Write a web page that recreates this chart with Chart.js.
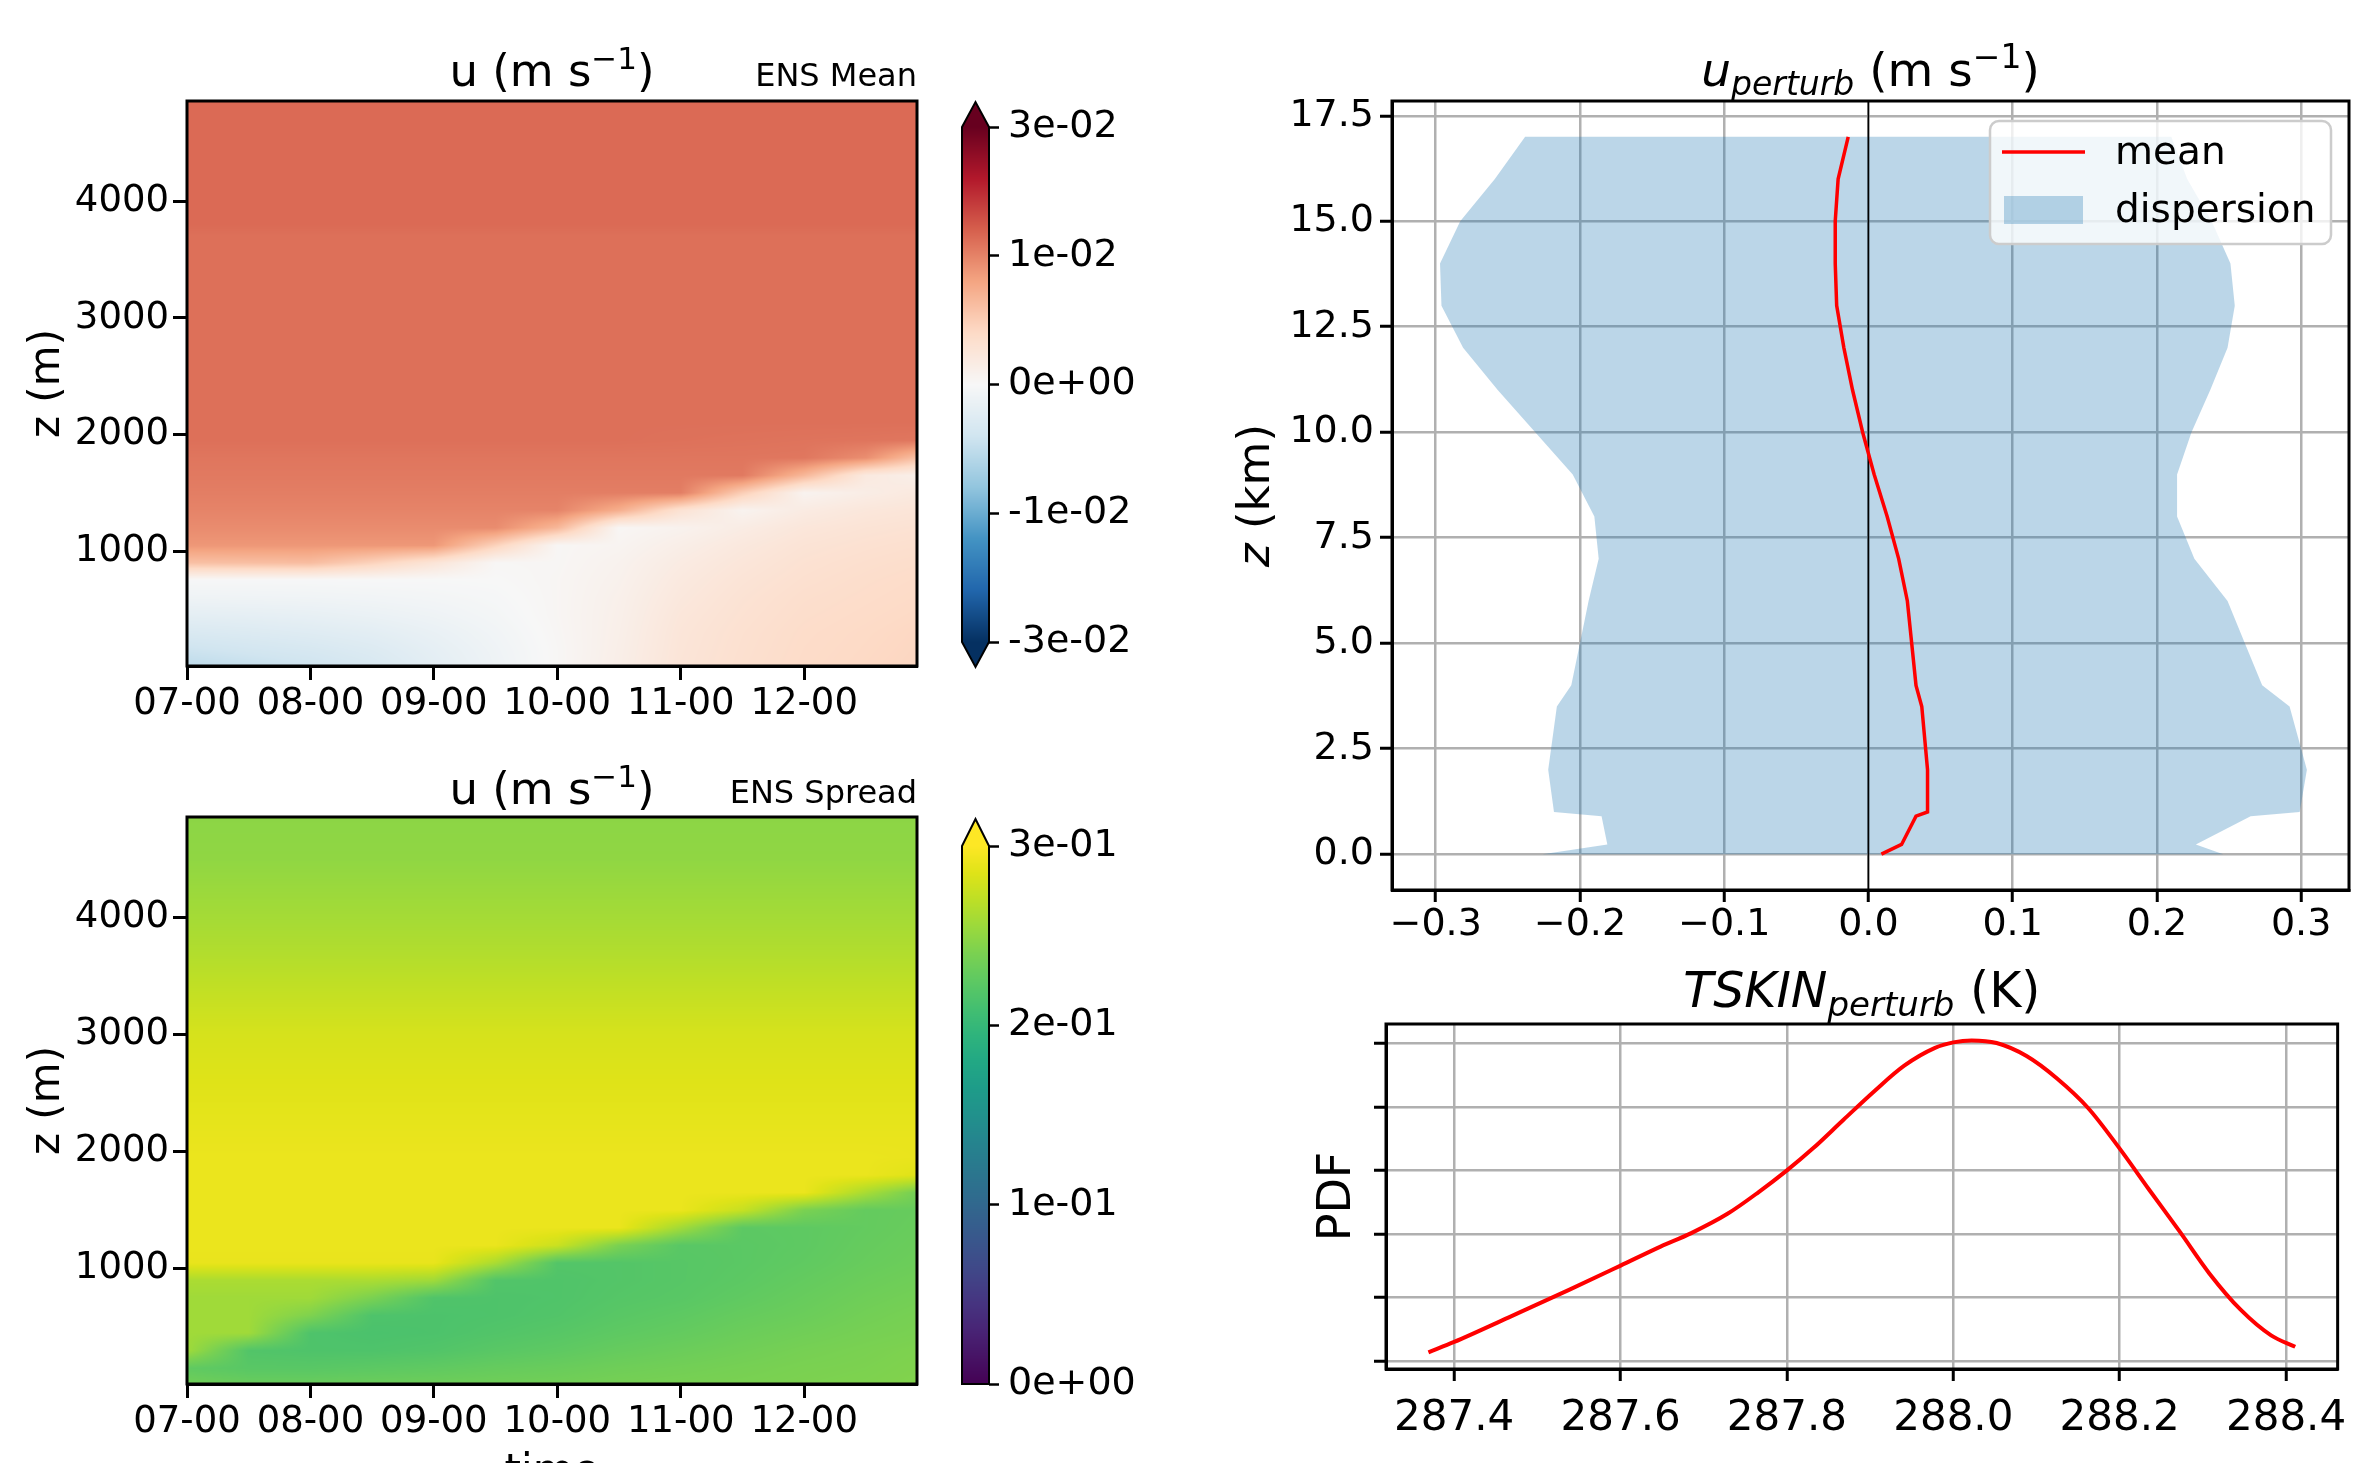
<!DOCTYPE html>
<html lang="en">
<head>
<meta charset="utf-8">
<title>Ensemble perturbation diagnostics</title>
<script src="https://cdn.jsdelivr.net/npm/chart.js@4.4.1/dist/chart.umd.min.js"></script>
<style>
  html, body { margin: 0; padding: 0; background: #fff; }
  #fig { position: relative; width: 2364px; height: 1463px; overflow: hidden; background: #fff; }
  #fig canvas { position: absolute; }
</style>
</head>
<body>
<div id="fig">
  <canvas id="mean" width="960" height="740" style="left:0px;top:0px"></canvas>
  <canvas id="meanBar" width="230" height="640" style="left:930px;top:60px"></canvas>
  <canvas id="spread" width="960" height="723" style="left:0px;top:740px"></canvas>
  <canvas id="spreadBar" width="230" height="640" style="left:930px;top:780px"></canvas>
  <canvas id="profile" width="1184" height="960" style="left:1180px;top:0px"></canvas>
  <canvas id="pdf" width="1184" height="503" style="left:1180px;top:960px"></canvas>
</div>
<script>
// ------------------------------------------------------------
// Data
// ------------------------------------------------------------

// time-height sections: hours after 07-00, heights in m
const TIME_NODES = [0, 0.5, 1, 1.5, 2, 2.5, 3, 3.5, 4, 4.5, 5, 5.5, 6];
const TIME_TICKS = [0, 1, 2, 3, 4, 5];
const TIME_LABELS = ["07-00", "08-00", "09-00", "10-00", "11-00", "12-00"];
const TIME_RANGE = [0, 5.914];
const Z_NODES = [0, 150, 300, 450, 600, 750, 900, 1050, 1200, 1350, 1500, 1650, 1800, 1950, 2100, 2500, 3000, 3700, 3800, 4500, 4900];
const Z_TICKS = [1000, 2000, 3000, 4000];
const Z_RANGE = [15, 4860];

// ensemble mean of u (m/s): one row per Z_NODES level, one column per TIME_NODES
const U_MEAN = [
    [-0.0080, -0.0072, -0.0063, -0.0050, -0.0032, -0.0015, 0.0003, 0.0020, 0.0040, 0.0050, 0.0058, 0.0062, 0.0066],
    [-0.0064, -0.0057, -0.0051, -0.0042, -0.0028, -0.0013, 0.0003, 0.0019, 0.0039, 0.0049, 0.0057, 0.0061, 0.0065],
    [-0.0047, -0.0043, -0.0038, -0.0032, -0.0022, -0.0010, 0.0004, 0.0018, 0.0038, 0.0048, 0.0056, 0.0060, 0.0064],
    [-0.0030, -0.0028, -0.0025, -0.0020, -0.0014, -0.0006, 0.0005, 0.0017, 0.0036, 0.0046, 0.0054, 0.0058, 0.0062],
    [-0.0014, -0.0013, -0.0012, -0.0010, -0.0007, -0.0003, 0.0005, 0.0016, 0.0033, 0.0044, 0.0052, 0.0056, 0.0060],
    [-0.0002, -0.0002, -0.0002, -0.0001, -0.0001, 0.0000, 0.0005, 0.0014, 0.0030, 0.0041, 0.0049, 0.0054, 0.0058],
    [0.0090, 0.0092, 0.0094, 0.0070, 0.0040, 0.0003, 0.0004, 0.0012, 0.0026, 0.0037, 0.0046, 0.0051, 0.0055],
    [0.0132, 0.0132, 0.0132, 0.0132, 0.0132, 0.0070, 0.0004, 0.0008, 0.0020, 0.0032, 0.0042, 0.0047, 0.0051],
    [0.0142, 0.0142, 0.0142, 0.0142, 0.0142, 0.0142, 0.0100, 0.0004, 0.0012, 0.0024, 0.0036, 0.0042, 0.0046],
    [0.0149, 0.0149, 0.0149, 0.0149, 0.0149, 0.0149, 0.0149, 0.0110, 0.0045, 0.0010, 0.0026, 0.0035, 0.0040],
    [0.0154, 0.0154, 0.0154, 0.0154, 0.0154, 0.0154, 0.0154, 0.0154, 0.0154, 0.0075, 0.0010, 0.0022, 0.0032],
    [0.0158, 0.0158, 0.0158, 0.0158, 0.0158, 0.0158, 0.0158, 0.0158, 0.0158, 0.0158, 0.0100, 0.0030, 0.0015],
    [0.0161, 0.0161, 0.0161, 0.0161, 0.0161, 0.0161, 0.0161, 0.0161, 0.0161, 0.0161, 0.0160, 0.0140, 0.0080],
    [0.0166, 0.0166, 0.0166, 0.0166, 0.0166, 0.0166, 0.0166, 0.0166, 0.0165, 0.0164, 0.0163, 0.0162, 0.0160],
    [0.0166, 0.0166, 0.0166, 0.0166, 0.0166, 0.0166, 0.0166, 0.0166, 0.0166, 0.0166, 0.0166, 0.0166, 0.0166],
    [0.0166, 0.0166, 0.0166, 0.0166, 0.0166, 0.0166, 0.0166, 0.0166, 0.0166, 0.0166, 0.0166, 0.0166, 0.0166],
    [0.0166, 0.0166, 0.0166, 0.0166, 0.0166, 0.0166, 0.0166, 0.0166, 0.0166, 0.0166, 0.0166, 0.0166, 0.0166],
    [0.0166, 0.0166, 0.0166, 0.0166, 0.0166, 0.0166, 0.0166, 0.0166, 0.0166, 0.0166, 0.0166, 0.0166, 0.0166],
    [0.0171, 0.0171, 0.0171, 0.0171, 0.0171, 0.0171, 0.0171, 0.0171, 0.0171, 0.0171, 0.0171, 0.0171, 0.0171],
    [0.0171, 0.0171, 0.0171, 0.0171, 0.0171, 0.0171, 0.0171, 0.0171, 0.0171, 0.0171, 0.0171, 0.0171, 0.0171],
    [0.0171, 0.0171, 0.0171, 0.0171, 0.0171, 0.0171, 0.0171, 0.0171, 0.0171, 0.0171, 0.0171, 0.0171, 0.0171]
];

// ensemble spread of u (m/s)
const U_SPREAD = [
    [0.236, 0.232, 0.232, 0.233, 0.234, 0.235, 0.236, 0.238, 0.239, 0.240, 0.241, 0.242, 0.244],
    [0.226, 0.222, 0.222, 0.224, 0.226, 0.229, 0.231, 0.234, 0.236, 0.238, 0.240, 0.241, 0.243],
    [0.257, 0.218, 0.216, 0.216, 0.218, 0.222, 0.225, 0.229, 0.232, 0.235, 0.238, 0.240, 0.242],
    [0.257, 0.257, 0.216, 0.214, 0.215, 0.218, 0.221, 0.225, 0.228, 0.232, 0.235, 0.238, 0.240],
    [0.257, 0.257, 0.242, 0.216, 0.215, 0.216, 0.218, 0.222, 0.225, 0.229, 0.232, 0.236, 0.239],
    [0.257, 0.257, 0.257, 0.240, 0.217, 0.216, 0.217, 0.220, 0.222, 0.226, 0.230, 0.234, 0.237],
    [0.262, 0.262, 0.262, 0.262, 0.257, 0.218, 0.217, 0.219, 0.221, 0.224, 0.228, 0.232, 0.235],
    [0.290, 0.290, 0.290, 0.290, 0.290, 0.262, 0.219, 0.219, 0.221, 0.223, 0.226, 0.230, 0.233],
    [0.291, 0.291, 0.291, 0.291, 0.291, 0.291, 0.276, 0.240, 0.222, 0.223, 0.225, 0.229, 0.232],
    [0.291, 0.291, 0.291, 0.291, 0.291, 0.291, 0.291, 0.291, 0.258, 0.224, 0.225, 0.228, 0.231],
    [0.291, 0.291, 0.291, 0.291, 0.291, 0.291, 0.291, 0.291, 0.291, 0.274, 0.240, 0.228, 0.230],
    [0.291, 0.291, 0.291, 0.291, 0.291, 0.291, 0.291, 0.291, 0.291, 0.291, 0.291, 0.261, 0.232],
    [0.291, 0.291, 0.291, 0.291, 0.291, 0.291, 0.291, 0.291, 0.291, 0.291, 0.291, 0.291, 0.284],
    [0.291, 0.291, 0.291, 0.291, 0.291, 0.291, 0.291, 0.291, 0.291, 0.291, 0.291, 0.291, 0.290],
    [0.290, 0.290, 0.290, 0.290, 0.290, 0.290, 0.290, 0.290, 0.290, 0.290, 0.290, 0.290, 0.290],
    [0.286, 0.286, 0.286, 0.286, 0.286, 0.286, 0.286, 0.286, 0.286, 0.286, 0.286, 0.286, 0.286],
    [0.281, 0.281, 0.281, 0.281, 0.281, 0.281, 0.281, 0.281, 0.281, 0.281, 0.281, 0.281, 0.281],
    [0.265, 0.265, 0.265, 0.265, 0.265, 0.265, 0.265, 0.265, 0.265, 0.265, 0.265, 0.265, 0.265],
    [0.263, 0.263, 0.263, 0.263, 0.263, 0.263, 0.263, 0.263, 0.263, 0.263, 0.263, 0.263, 0.263],
    [0.250, 0.250, 0.250, 0.250, 0.250, 0.250, 0.250, 0.250, 0.250, 0.250, 0.250, 0.250, 0.250],
    [0.248, 0.248, 0.248, 0.248, 0.248, 0.248, 0.248, 0.248, 0.248, 0.248, 0.248, 0.248, 0.248]
];

const MEAN_RANGE = [-0.03, 0.03];
const MEAN_CB_TICKS = [-0.03, -0.015, 0, 0.015, 0.03];
const MEAN_CB_LABELS = ["-3e-02", "-1e-02", "0e+00", "1e-02", "3e-02"];
const SPREAD_RANGE = [0, 0.3];
const SPREAD_CB_TICKS = [0, 0.1, 0.2, 0.3];
const SPREAD_CB_LABELS = ["0e+00", "1e-01", "2e-01", "3e-01"];

// u_perturb profile (km, m/s)
const PROF_Z = [0, 0.23, 0.9, 1.0, 2.0, 3.5, 4.0, 5.0, 6.0, 7.0, 8.0, 9.0, 10.0, 11.0, 12.0, 13.0, 14.0, 15.0, 16.0, 17.0];
const PROF_MEAN = [0.009, 0.023, 0.033, 0.041, 0.041, 0.037, 0.033, 0.030, 0.027, 0.021, 0.013, 0.004, -0.004, -0.011, -0.017, -0.022, -0.023, -0.023, -0.021, -0.014];
const PROF_LO = [-0.226, -0.181, -0.185, -0.218, -0.222, -0.216, -0.206, -0.200, -0.194, -0.187, -0.190, -0.205, -0.231, -0.257, -0.281, -0.296, -0.297, -0.283, -0.259, -0.238];
const PROF_HI = [0.246, 0.227, 0.265, 0.299, 0.304, 0.292, 0.273, 0.261, 0.249, 0.226, 0.214, 0.214, 0.224, 0.237, 0.249, 0.254, 0.251, 0.238, 0.221, 0.210];
const PROF_X_TICKS = [-0.3, -0.2, -0.1, 0, 0.1, 0.2, 0.3];
const PROF_Z_TICKS = [0, 2.5, 5, 7.5, 10, 12.5, 15, 17.5];
const PROF_X_RANGE = [-0.3303, 0.3332];
const PROF_Z_RANGE = [-0.85, 17.85];
const ZERO_U = 0;

// TSKIN_perturb density (K, arbitrary units)
const TSKIN = [287.369, 287.400, 287.465, 287.538, 287.600, 287.648, 287.685, 287.729, 287.766, 287.800,
               287.831, 287.868, 287.905, 287.941, 287.978, 288.000, 288.022, 288.052, 288.088, 288.125,
               288.162, 288.200, 288.235, 288.272, 288.308, 288.345, 288.382, 288.411];
const TSKIN_PDF = [0.133, 0.297, 0.681, 1.117, 1.500, 1.800, 2.013, 2.321, 2.660, 3.002,
                   3.345, 3.800, 4.250, 4.652, 4.933, 5.020, 5.051, 5.010, 4.805, 4.447,
                   3.986, 3.345, 2.705, 2.039, 1.373, 0.809, 0.400, 0.220];
const TSKIN_TICKS = [287.4, 287.6, 287.8, 288.0, 288.2, 288.4];
const PDF_TICKS = [0, 1, 2, 3, 4, 5];
const TSKIN_RANGE = [287.318, 288.462];
const PDF_RANGE = [-0.13, 5.31];

// ------------------------------------------------------------
// Colour maps
// ------------------------------------------------------------
const RDBU_R_STOPS = ["#053061", "#2166ac", "#4393c3", "#92c5de", "#d1e5f0", "#f7f7f7",
                      "#fddbc7", "#f4a582", "#d6604d", "#b2182b", "#67001f"];
const VIRIDIS_STOPS = ["#440154", "#471365", "#482475", "#463480", "#414487", "#3b528b", "#355f8d",
                       "#2f6c8e", "#2a788e", "#25848e", "#21918c", "#1e9c89", "#22a884", "#2fb47c",
                       "#44bf70", "#5ec962", "#7ad151", "#9bd93c", "#bddf26", "#dfe318", "#fde725"];

function makeCmap(stops) {
    const rgb = stops.map(h => [1, 3, 5].map(k => parseInt(h.substr(k, 2), 16)));
    const n = rgb.length;
    return f => {
        const p = Math.min(1, Math.max(0, f)) * (n - 1);
        const k = Math.min(n - 2, Math.floor(p));
        const w = p - k;
        return [0, 1, 2].map(c => Math.round(rgb[k][c] * (1 - w) + rgb[k + 1][c] * w));
    };
}
const RDBU_R = makeCmap(RDBU_R_STOPS);
const VIRIDIS = makeCmap(VIRIDIS_STOPS);

// ------------------------------------------------------------
// Helpers
// ------------------------------------------------------------
const FONT = "'DejaVu Sans', sans-serif";
const BLACK = "#000";
Chart.defaults.font.family = FONT;
Chart.defaults.color = BLACK;

function tickFont(size) { return { family: FONT, size, lineHeight: 1 }; }

function drawRich(ctx, segs, x, y, align, angle) {
    ctx.save();
    ctx.translate(x, y);
    if (angle) ctx.rotate(angle);
    ctx.fillStyle = BLACK;
    ctx.textBaseline = "alphabetic";
    ctx.textAlign = "left";
    const fonts = segs.map(s => `${s.italic ? "italic " : ""}${s.size}px ${FONT}`);
    const widths = segs.map((s, i) => { ctx.font = fonts[i]; return ctx.measureText(s.text).width; });
    const total = widths.reduce((p, c) => p + c, 0);
    let cx = align === "center" ? -total / 2 : align === "right" ? -total : 0;
    segs.forEach((s, i) => {
        ctx.font = fonts[i];
        ctx.fillText(s.text, cx, s.dy || 0);
        cx += widths[i];
    });
    ctx.restore();
}

function textLayer(items) {
    return {
        id: "texts",
        afterDraw(chart) {
            const a = chart.chartArea;
            items.forEach(it => drawRich(chart.ctx, it.segs, it.x(a), it.y(a), it.align, it.rotate));
        }
    };
}

const framePlugin = {
    id: "frame",
    afterDatasetsDraw(chart) {
        const { ctx, chartArea: a } = chart;
        ctx.save();
        ctx.strokeStyle = BLACK;
        ctx.lineWidth = 3;
        ctx.strokeRect(a.left, a.top, a.right - a.left, a.bottom - a.top);
        ctx.restore();
    }
};

function locate(nodes, v) {
    let i = 0;
    while (i < nodes.length - 2 && v > nodes[i + 1]) i++;
    const f = (v - nodes[i]) / (nodes[i + 1] - nodes[i]);
    return [i, Math.min(1, Math.max(0, f))];
}

// shades the plot area from the gridded values, via the chart's own scales
function heatLayer(grid, cmap, range) {
    return {
        id: "heat",
        beforeDatasetsDraw(chart) {
            const { ctx, chartArea: a, scales } = chart;
            const x0 = Math.round(a.left), y0 = Math.round(a.top);
            const w = Math.round(a.right) - x0, h = Math.round(a.bottom) - y0;
            const img = ctx.createImageData(w, h);
            const cols = [], rows = [];
            for (let px = 0; px < w; px++) cols.push(locate(TIME_NODES, scales.x.getValueForPixel(x0 + px + 0.5)));
            for (let py = 0; py < h; py++) rows.push(locate(Z_NODES, scales.y.getValueForPixel(y0 + py + 0.5)));
            let k = 0;
            for (let py = 0; py < h; py++) {
                const [j, fy] = rows[py];
                const r0 = grid[j], r1 = grid[j + 1];
                for (let px = 0; px < w; px++) {
                    const [i, fx] = cols[px];
                    const v = (r0[i] * (1 - fx) + r0[i + 1] * fx) * (1 - fy) +
                              (r1[i] * (1 - fx) + r1[i + 1] * fx) * fy;
                    const c = cmap((v - range[0]) / (range[1] - range[0]));
                    img.data[k++] = c[0];
                    img.data[k++] = c[1];
                    img.data[k++] = c[2];
                    img.data[k++] = 255;
                }
            }
            ctx.putImageData(img, x0, y0);
        }
    };
}

function colorbarLayer(cmap, range, extendLow, extendHigh, ext) {
    return {
        id: "cbar",
        beforeDatasetsDraw(chart) {
            const { ctx, chartArea: a, scales: { y } } = chart;
            const x0 = Math.round(a.left), w = Math.round(a.right) - x0;
            const rgb = c => `rgb(${c[0]},${c[1]},${c[2]})`;
            for (let py = Math.round(a.top); py < Math.round(a.bottom); py++) {
                ctx.fillStyle = rgb(cmap((y.getValueForPixel(py + 0.5) - range[0]) / (range[1] - range[0])));
                ctx.fillRect(x0, py, w, 1);
            }
            const cx = (a.left + a.right) / 2;
            if (extendHigh) {
                ctx.beginPath();
                ctx.moveTo(a.left, a.top); ctx.lineTo(cx, a.top - ext); ctx.lineTo(a.right, a.top);
                ctx.closePath(); ctx.fillStyle = rgb(cmap(1)); ctx.fill();
            }
            if (extendLow) {
                ctx.beginPath();
                ctx.moveTo(a.left, a.bottom); ctx.lineTo(cx, a.bottom + ext); ctx.lineTo(a.right, a.bottom);
                ctx.closePath(); ctx.fillStyle = rgb(cmap(0)); ctx.fill();
            }
            ctx.beginPath();
            ctx.moveTo(a.left, a.bottom);
            ctx.lineTo(a.left, a.top);
            if (extendHigh) ctx.lineTo(cx, a.top - ext);
            ctx.lineTo(a.right, a.top);
            ctx.lineTo(a.right, a.bottom);
            if (extendLow) ctx.lineTo(cx, a.bottom + ext);
            ctx.closePath();
            ctx.strokeStyle = BLACK;
            ctx.lineWidth = 2;
            ctx.stroke();
        }
    };
}

function heatAxes(yWidth, xHeight) {
    return {
        x: {
            type: "linear", min: TIME_RANGE[0], max: TIME_RANGE[1],
            afterBuildTicks: s => { s.ticks = TIME_TICKS.map(v => ({ value: v })); },
            afterFit: s => { s.height = xHeight; },
            ticks: { font: tickFont(37), color: BLACK, padding: 6, maxRotation: 0, autoSkip: false,
                     callback: v => TIME_LABELS[TIME_TICKS.indexOf(v)] },
            grid: { drawOnChartArea: false, tickLength: 14, tickWidth: 3, tickColor: BLACK },
            border: { display: true, color: BLACK, width: 3 }
        },
        y: {
            type: "linear", min: Z_RANGE[0], max: Z_RANGE[1],
            afterBuildTicks: s => { s.ticks = Z_TICKS.map(v => ({ value: v })); },
            afterFit: s => { s.width = yWidth; },
            ticks: { font: tickFont(37), color: BLACK, padding: 4, autoSkip: false, callback: v => String(v) },
            grid: { drawOnChartArea: false, tickLength: 14, tickWidth: 3, tickColor: BLACK },
            border: { display: true, color: BLACK, width: 3 }
        }
    };
}

function barAxes(range, ticks, labels, yWidth) {
    return {
        x: { display: false, min: 0, max: 1 },
        y: {
            position: "right", min: range[0], max: range[1],
            afterBuildTicks: s => { s.ticks = ticks.map(v => ({ value: v })); },
            afterFit: s => { s.width = yWidth; },
            ticks: { font: tickFont(38), color: BLACK, padding: 9, autoSkip: false, callback: (v, i) => labels[i] },
            grid: { drawOnChartArea: false, tickLength: 10, tickWidth: 2.5, tickColor: BLACK },
            border: { display: false }
        }
    };
}

const baseOptions = {
    responsive: false,
    animation: false,
    devicePixelRatio: 1,
    plugins: { legend: { display: false }, tooltip: { enabled: false } }
};

const HEAT_TITLE = [{ text: "u (m s", size: 45 }, { text: "\u22121", size: 31, dy: -17 }, { text: ")", size: 45 }];

// ------------------------------------------------------------
// ENS Mean section
// ------------------------------------------------------------
new Chart(document.getElementById("mean"), {
    type: "scatter",
    data: { datasets: [] },
    options: { ...baseOptions, layout: { padding: { top: 101, right: 43, left: 0, bottom: 0 } }, scales: heatAxes(187, 74) },
    plugins: [
        heatLayer(U_MEAN, RDBU_R, MEAN_RANGE), framePlugin,
        textLayer([
            { segs: HEAT_TITLE, x: a => (a.left + a.right) / 2, y: a => a.top - 15, align: "center" },
            { segs: [{ text: "ENS Mean", size: 32 }], x: a => a.right, y: a => a.top - 15, align: "right" },
            { segs: [{ text: "z (m)", size: 42 }], x: () => 59, y: a => (a.top + a.bottom) / 2, align: "center", rotate: -Math.PI / 2 }
        ])
    ]
});

new Chart(document.getElementById("meanBar"), {
    type: "scatter",
    data: { datasets: [] },
    options: { ...baseOptions, layout: { padding: { top: 67, left: 32, bottom: 58, right: 0 } },
               scales: barAxes(MEAN_RANGE, MEAN_CB_TICKS, MEAN_CB_LABELS, 171) },
    plugins: [colorbarLayer(RDBU_R, MEAN_RANGE, true, true, 25)]
});

// ------------------------------------------------------------
// ENS Spread section
// ------------------------------------------------------------
new Chart(document.getElementById("spread"), {
    type: "scatter",
    data: { datasets: [] },
    options: { ...baseOptions, layout: { padding: { top: 77, right: 43, left: 0, bottom: 0 } }, scales: heatAxes(187, 79) },
    plugins: [
        heatLayer(U_SPREAD, VIRIDIS, SPREAD_RANGE), framePlugin,
        textLayer([
            { segs: HEAT_TITLE, x: a => (a.left + a.right) / 2, y: a => a.top - 13, align: "center" },
            { segs: [{ text: "ENS Spread", size: 32 }], x: a => a.right, y: a => a.top - 14, align: "right" },
            { segs: [{ text: "z (m)", size: 42 }], x: () => 59, y: a => (a.top + a.bottom) / 2, align: "center", rotate: -Math.PI / 2 },
            { segs: [{ text: "time", size: 42 }], x: a => (a.left + a.right) / 2, y: a => a.bottom + 100, align: "center" }
        ])
    ]
});

new Chart(document.getElementById("spreadBar"), {
    type: "scatter",
    data: { datasets: [] },
    options: { ...baseOptions, layout: { padding: { top: 66, left: 32, bottom: 36, right: 0 } },
               scales: barAxes(SPREAD_RANGE, SPREAD_CB_TICKS, SPREAD_CB_LABELS, 171) },
    plugins: [colorbarLayer(VIRIDIS, SPREAD_RANGE, false, true, 27)]
});

// ------------------------------------------------------------
// u_perturb profile
// ------------------------------------------------------------
const profileLegend = {
    id: "profileLegend",
    afterDraw(chart) {
        const { ctx, chartArea: a } = chart;
        const items = chart.data.datasets.filter(d => d.label);
        const w = 341, h = 123, x = a.right - 18 - w, y = a.top + 20;
        ctx.save();
        ctx.beginPath();
        ctx.roundRect(x, y, w, h, 9);
        ctx.fillStyle = "rgba(255,255,255,0.8)";
        ctx.fill();
        ctx.strokeStyle = "#cccccc";
        ctx.lineWidth = 2.5;
        ctx.stroke();
        ctx.font = `39px ${FONT}`;
        ctx.textBaseline = "middle";
        items.forEach((d, i) => {
            const cy = y + 31 + i * 58;
            if (d.fill) {
                ctx.fillStyle = d.backgroundColor;
                ctx.fillRect(x + 14, cy - 14, 79, 28);
            } else {
                ctx.strokeStyle = d.borderColor;
                ctx.lineWidth = d.borderWidth;
                ctx.beginPath();
                ctx.moveTo(x + 12, cy);
                ctx.lineTo(x + 95, cy);
                ctx.stroke();
            }
            ctx.fillStyle = BLACK;
            ctx.fillText(d.label, x + 125, cy + 2);
        });
        ctx.restore();
    }
};

const dispersionPts = PROF_Z.map((z, i) => ({ x: PROF_LO[i], y: z }))
    .concat(PROF_Z.map((z, i) => ({ x: PROF_HI[i], y: z })).reverse());

new Chart(document.getElementById("profile"), {
    type: "line",
    data: {
        datasets: [
            { label: "mean", data: PROF_Z.map((z, i) => ({ x: PROF_MEAN[i], y: z })),
              borderColor: "#ff0000", borderWidth: 3.5, pointRadius: 0, fill: false, tension: 0 },
            { data: [{ x: ZERO_U, y: PROF_Z_RANGE[0] }, { x: ZERO_U, y: PROF_Z_RANGE[1] }],
              borderColor: BLACK, borderWidth: 1.6, pointRadius: 0, fill: false },
            { label: "dispersion", data: dispersionPts, fill: "shape",
              backgroundColor: "rgba(31,119,180,0.3)", borderWidth: 0, pointRadius: 0, tension: 0 }
        ]
    },
    options: {
        ...baseOptions,
        layout: { padding: { top: 101, right: 15, left: 0, bottom: 0 } },
        scales: {
            x: {
                type: "linear", min: PROF_X_RANGE[0], max: PROF_X_RANGE[1],
                afterBuildTicks: s => { s.ticks = PROF_X_TICKS.map(v => ({ value: v })); },
                afterFit: s => { s.height = 70; },
                ticks: { font: tickFont(38), color: BLACK, padding: 4, maxRotation: 0, autoSkip: false,
                         callback: v => v.toFixed(1).replace("-", "\u2212") },
                grid: { color: "#b0b0b0", lineWidth: 2.5, tickLength: 12, tickWidth: 3, tickColor: BLACK },
                border: { display: true, color: BLACK, width: 3 }
            },
            y: {
                type: "linear", min: PROF_Z_RANGE[0], max: PROF_Z_RANGE[1],
                afterBuildTicks: s => { s.ticks = PROF_Z_TICKS.map(v => ({ value: v })); },
                afterFit: s => { s.width = 212; },
                ticks: { font: tickFont(38), color: BLACK, padding: 6, autoSkip: false, callback: v => v.toFixed(1) },
                grid: { color: "#b0b0b0", lineWidth: 2.5, tickLength: 12, tickWidth: 3, tickColor: BLACK },
                border: { display: true, color: BLACK, width: 3 }
            }
        }
    },
    plugins: [
        framePlugin, profileLegend,
        textLayer([
            { segs: [{ text: "u", size: 47, italic: true }, { text: "perturb", size: 33, italic: true, dy: 9 },
                     { text: " (m s", size: 47 }, { text: "\u22121", size: 33, dy: -18 }, { text: ")", size: 47 }],
              x: a => (a.left + a.right) / 2, y: a => a.top - 15, align: "center" },
            { segs: [{ text: "z", size: 45, italic: true }, { text: " (km)", size: 45 }],
              x: () => 89, y: a => (a.top + a.bottom) / 2, align: "center", rotate: -Math.PI / 2 }
        ])
    ]
});

// ------------------------------------------------------------
// TSKIN_perturb PDF
// ------------------------------------------------------------
new Chart(document.getElementById("pdf"), {
    type: "line",
    data: {
        datasets: [
            { data: TSKIN.map((t, i) => ({ x: t, y: TSKIN_PDF[i] })), borderColor: "#ff0000", borderWidth: 4,
              pointRadius: 0, fill: false, cubicInterpolationMode: "monotone" }
        ]
    },
    options: {
        ...baseOptions,
        layout: { padding: { top: 64, right: 15, left: 0, bottom: 0 } },
        scales: {
            x: {
                type: "linear", min: TSKIN_RANGE[0], max: TSKIN_RANGE[1],
                afterBuildTicks: s => { s.ticks = TSKIN_TICKS.map(v => ({ value: v })); },
                afterFit: s => { s.height = 94; },
                ticks: { font: tickFont(42), color: BLACK, padding: 17, maxRotation: 0, autoSkip: false,
                         callback: v => v.toFixed(1) },
                grid: { color: "#b0b0b0", lineWidth: 2.5, tickLength: 12, tickWidth: 3, tickColor: BLACK },
                border: { display: true, color: BLACK, width: 3 }
            },
            y: {
                type: "linear", min: PDF_RANGE[0], max: PDF_RANGE[1],
                afterBuildTicks: s => { s.ticks = PDF_TICKS.map(v => ({ value: v })); },
                afterFit: s => { s.width = 206; },
                ticks: { font: tickFont(38), color: BLACK, padding: 4, autoSkip: false, callback: () => "" },
                grid: { color: "#b0b0b0", lineWidth: 2.5, tickLength: 12, tickWidth: 3, tickColor: BLACK },
                border: { display: true, color: BLACK, width: 3 }
            }
        }
    },
    plugins: [
        framePlugin,
        textLayer([
            { segs: [{ text: "TSKIN", size: 49, italic: true }, { text: "perturb", size: 34, italic: true, dy: 9 },
                     { text: " (K)", size: 49 }],
              x: a => (a.left + a.right) / 2, y: a => a.top - 17, align: "center" },
            { segs: [{ text: "PDF", size: 46 }], x: () => 170, y: a => (a.top + a.bottom) / 2, align: "center", rotate: -Math.PI / 2 }
        ])
    ]
});
</script>
</body>
</html>
